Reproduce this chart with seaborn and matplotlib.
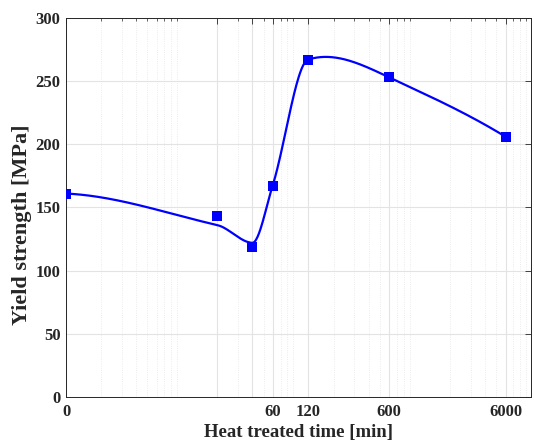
import numpy as np
import pandas as pd
import seaborn as sns
import matplotlib.pyplot as plt
from matplotlib.ticker import FixedLocator, FixedFormatter, LogLocator, NullFormatter

# Datos (el tiempo 0 se dibuja en 1 min por la escala log)
tiempo = [1, 20, 40, 60, 120, 600, 6000]
limite_elastico = [161, 143, 119, 167, 267, 253, 206]
# valores de la curva de ajuste en esos mismos tiempos
ajuste = [161, 136, 122, 168, 267, 253, 206]
ticks_x = [1, 20, 40, 60, 120, 600, 6000]
etiquetas_x = ['0', '', '', '60', '120', '600', '6000']
ticks_y = [0, 50, 100, 150, 200, 250, 300]


def pendientes_makima(x, y):
    # pendientes tipo Akima modificado (como interp1 'makima')
    m = np.diff(y) / np.diff(x)
    m = np.concatenate([[3 * m[0] - 2 * m[1], 2 * m[0] - m[1]], m,
                        [2 * m[-1] - m[-2], 3 * m[-1] - 2 * m[-2]]])
    d = np.zeros(len(x))
    for i in range(len(x)):
        w1 = abs(m[i + 3] - m[i + 2]) + abs(m[i + 3] + m[i + 2]) / 2
        w2 = abs(m[i + 1] - m[i]) + abs(m[i + 1] + m[i]) / 2
        d[i] = 0 if w1 + w2 == 0 else (w1 * m[i + 1] + w2 * m[i + 2]) / (w1 + w2)
    return d


def hermite(x, y, d, xs):
    i = np.clip(np.searchsorted(x, xs) - 1, 0, len(x) - 2)
    h = x[i + 1] - x[i]
    u = (xs - x[i]) / h
    return ((2 * u**3 - 3 * u**2 + 1) * y[i] + (u**3 - 2 * u**2 + u) * h * d[i]
            + (-2 * u**3 + 3 * u**2) * y[i + 1] + (u**3 - u**2) * h * d[i + 1])


sns.set_style('white')
plt.rcParams['font.family'] = ['Liberation Serif', 'DejaVu Serif']
plt.rcParams['font.weight'] = 'bold'

fig = plt.figure(figsize=(5.34, 4.44), dpi=100)
ax = fig.add_axes([0.1236, 0.106, 0.8715, 0.8535])

# curva suave en escala log del tiempo
lx = np.log10(tiempo)
ya = np.array(ajuste, float)
xs = np.linspace(lx[0], lx[-1], 600)
ys = hermite(lx, ya, pendientes_makima(lx, ya), xs)
curva = pd.DataFrame({'t': 10 ** xs, 'y': ys})
sns.lineplot(data=curva, x='t', y='y', ax=ax, color='#0000ff', linewidth=1.6)

puntos = pd.DataFrame({'t': tiempo, 'y': limite_elastico})
sns.scatterplot(data=puntos, x='t', y='y', ax=ax, marker='s', s=42, color='#0000ff',
                edgecolor='#0000ff', linewidth=0, zorder=3)

ax.set_xscale('log')
ax.set_xlim(1, 10000)
ax.set_ylim(0, 300)
ax.xaxis.set_major_locator(FixedLocator(ticks_x))
ax.xaxis.set_major_formatter(FixedFormatter(etiquetas_x))
ax.xaxis.set_minor_locator(LogLocator(base=10, subs=np.arange(2, 10)))
ax.xaxis.set_minor_formatter(NullFormatter())
ax.set_yticks(ticks_y)

ax.grid(True, which='major', color='#e3e3e3', linewidth=0.8, linestyle='-')
ax.grid(True, which='minor', axis='x', color='#e6e6e6', linewidth=0.6, linestyle=':')
ax.set_axisbelow(True)

ax.tick_params(which='both', direction='in', top=True, right=True, labelsize=12, colors='#262626')
ax.tick_params(which='major', length=4, width=0.6)
ax.tick_params(which='minor', length=2.5, width=0.5)
ax.tick_params(axis='x', pad=5)
ax.tick_params(axis='y', pad=4)
for s in ax.spines.values():
    s.set_color('#262626')
    s.set_linewidth(0.7)

ax.set_xlabel('Heat treated time [min]', fontsize=13.5, fontweight='bold', labelpad=3)
ax.set_ylabel('Yield strength [MPa]', fontsize=16, fontweight='bold')
ax.yaxis.set_label_coords(-0.074, 0.454)

plt.savefig('out.png', dpi=100)
